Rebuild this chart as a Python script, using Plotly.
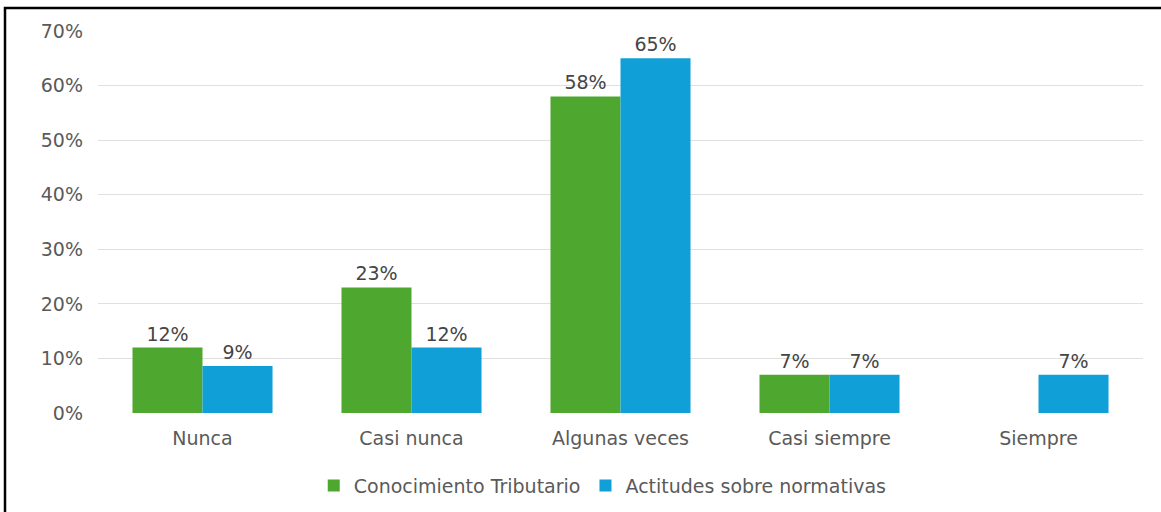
import plotly.graph_objects as go

categories = ["Nunca", "Casi nunca", "Algunas veces", "Casi siempre", "Siempre"]
conocimiento = [0.12, 0.23, 0.58, 0.07, 0.0]
conocimiento_labels = ["12%", "23%", "58%", "7%", ""]
actitudes = [0.086, 0.12, 0.65, 0.07, 0.07]
actitudes_labels = ["9%", "12%", "65%", "7%", "7%"]
y_ticks = [0, 0.1, 0.2, 0.3, 0.4, 0.5, 0.6, 0.7]
y_tick_labels = ["0%", "10%", "20%", "30%", "40%", "50%", "60%", "70%"]

W, H = 1161, 512
ml, mr, mt, mb = 98, 18, 31, 99
font = "DejaVu Sans, Verdana, sans-serif"
fs = 19
txt = "#5a5a5a"

fig = go.Figure()
fig.add_trace(go.Bar(
    x=categories, y=conocimiento, name="Conocimiento Tributario",
    marker=dict(color="#4ea72e", line=dict(width=0)),
    text=conocimiento_labels, textposition="outside", cliponaxis=False,
    textfont=dict(size=fs, color="#454545", family=font),
))
fig.add_trace(go.Bar(
    x=categories, y=actitudes, name="Actitudes sobre normativas",
    marker=dict(color="#119fd8", line=dict(width=0)),
    text=actitudes_labels, textposition="outside", cliponaxis=False,
    textfont=dict(size=fs, color="#454545", family=font),
))

pw = W - ml - mr
ph = H - mt - mb
fig.add_shape(type="rect", xref="paper", yref="paper",
              x0=(5 - ml) / pw, x1=(W + 20 - ml) / pw,
              y0=-(H + 20 - (H - mb)) / ph,
              y1=1 + (mt - 8) / ph,
              line=dict(color="black", width=2.5), layer="above")

fig.update_layout(
    width=W, height=H,
    margin=dict(l=ml, r=mr, t=mt, b=mb, autoexpand=False),
    paper_bgcolor="white", plot_bgcolor="white",
    barmode="group", bargap=0.33, bargroupgap=0,
    font=dict(family=font, size=fs, color=txt),
    showlegend=True,
    legend=dict(orientation="h", x=0.483, xanchor="center", y=-0.19, yanchor="middle",
                font=dict(size=fs, color=txt), traceorder="normal",
                itemwidth=30),
    xaxis=dict(showgrid=False, showline=False, ticks="", ticklabelstandoff=12,
               tickfont=dict(size=fs, color=txt)),
    yaxis=dict(range=[0, 0.7], tickvals=y_ticks, ticktext=y_tick_labels,
               showgrid=True, gridcolor="#e0e0e0", gridwidth=1, zeroline=False,
               showline=False, ticks="", ticklabelstandoff=14,
               tickfont=dict(size=fs, color=txt)),
)

fig.write_html("out.html", config={"displayModeBar": False},
               post_script="document.body.style.margin='0';")
